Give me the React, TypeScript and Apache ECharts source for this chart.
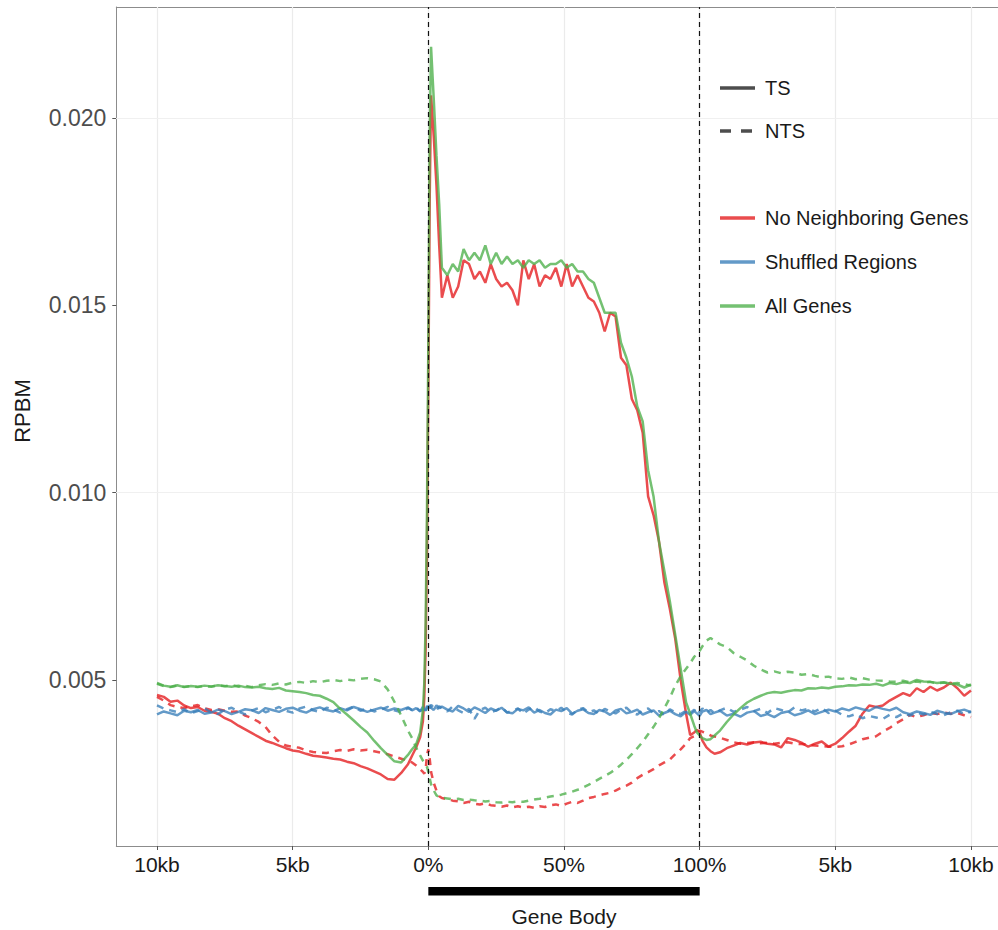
import React, { useEffect, useRef } from "react";
import * as echarts from "echarts";

// Bin positions: 0..200 = upstream 10kb..0%, 200..400 = gene body 0%..100%, 400..600 = downstream 0..10kb
const positions = [
  0, 5, 10, 15, 20, 25, 30, 35, 40, 45, 50, 55, 60, 65, 70, 75, 80, 85, 90, 95,
  100, 105, 110, 115, 120, 125, 130, 135, 140, 145, 150, 155, 160, 165, 170, 175, 180, 185,
  188, 191, 194, 196, 197, 198, 199, 200, 201, 202, 204, 206, 208,
  210, 214, 218, 222, 226, 230, 234, 238, 242, 246, 250, 254, 258, 262, 266, 270, 274, 278, 282, 286,
  290, 294, 298, 302, 306, 310, 314, 318, 322, 326, 330, 334, 338, 342, 346, 350, 354, 358, 362, 366,
  370, 374, 378, 382, 386, 390,
  393, 396, 398, 400, 402, 405, 408, 411,
  415, 420, 425, 430, 435, 440, 445, 450, 455, 460, 465, 470, 475, 480, 485, 490, 495, 500, 505, 510,
  515, 520, 525, 530, 535, 540, 545, 550, 555, 560, 565, 570, 575, 580, 585, 590, 595, 600,
];

const xTickValues = [0, 100, 200, 300, 400, 500, 600];
const xTickLabels = ["10kb", "5kb", "0%", "50%", "100%", "5kb", "10kb"];
const yTickValues = [0.005, 0.01, 0.015, 0.02];
const yMinorGrid = [0.0025, 0.0075, 0.0125, 0.0175, 0.0225];
const geneBoundaries = [200, 400];
const geneBodySpan = [200, 400];

const noNeighborTS = [
  0.0046, 0.00455, 0.00442, 0.00445, 0.00432, 0.00425, 0.00428, 0.00418, 0.00415, 0.0041,
  0.00398, 0.0039, 0.00378, 0.00368, 0.00358, 0.00348, 0.00338, 0.00332, 0.00325, 0.00318,
  0.00312, 0.00309, 0.00303, 0.00298, 0.00296, 0.00293, 0.0029, 0.00288, 0.00282, 0.00278,
  0.0027, 0.00264, 0.00256, 0.00248, 0.00236, 0.00234, 0.00252, 0.00275,
  0.00298, 0.0032, 0.00348, 0.0039, 0.0045, 0.0058, 0.0085, 0.0128, 0.0178, 0.0206, 0.0195, 0.0182, 0.0166,
  0.0152, 0.0158, 0.0152, 0.0155, 0.0162, 0.0161, 0.0157, 0.0159, 0.0156, 0.0161,
  0.0157, 0.0155, 0.0156, 0.0154, 0.015, 0.0162, 0.0157, 0.0161, 0.0155, 0.0158,
  0.0157, 0.016, 0.0155, 0.0161, 0.0155, 0.0158, 0.0155, 0.0152, 0.0151, 0.0148,
  0.0143, 0.0148, 0.0147, 0.0136, 0.0134, 0.0125, 0.0122, 0.0116, 0.0099, 0.0094,
  0.0087, 0.0076, 0.0069, 0.0061, 0.005, 0.0041,
  0.00353, 0.0036, 0.00367, 0.0036, 0.00338, 0.0032, 0.0031, 0.00303,
  0.00307, 0.00318, 0.00325, 0.00332, 0.00328, 0.00333, 0.00335, 0.0033, 0.00328, 0.0032,
  0.00345, 0.0034, 0.00333, 0.00322, 0.0033, 0.00336, 0.00322, 0.0033, 0.00345, 0.00362,
  0.00378, 0.0041, 0.00432, 0.00428, 0.00432, 0.00445, 0.00455, 0.00465, 0.00458, 0.00478,
  0.00468, 0.00482, 0.00472, 0.0048, 0.00493, 0.00478, 0.00458, 0.00472,
];

const noNeighborNTS = [
  0.00455, 0.00445, 0.00433, 0.00428, 0.00425, 0.0043, 0.00433, 0.00425, 0.0042, 0.00422,
  0.00418, 0.00415, 0.00416, 0.00405, 0.00398, 0.00388, 0.00375, 0.00352, 0.00335, 0.00325,
  0.00322, 0.00319, 0.00312, 0.00308, 0.00306, 0.00305, 0.0031, 0.00313, 0.00311, 0.00315,
  0.00312, 0.00314, 0.0031, 0.00306, 0.00302, 0.00296, 0.0029, 0.00284,
  0.0028, 0.00272, 0.00262, 0.00255, 0.0025, 0.0026, 0.003, 0.00315, 0.0029, 0.00255, 0.00225, 0.00205, 0.0019,
  0.00185, 0.00182, 0.00178, 0.00176, 0.00172, 0.00175, 0.0017, 0.00168, 0.00171, 0.00166,
  0.00164, 0.00162, 0.00165, 0.0016, 0.00163, 0.0016, 0.00162, 0.00159, 0.00163, 0.00161,
  0.00166, 0.00168, 0.00164, 0.0017, 0.00175, 0.00172, 0.00178, 0.00185, 0.00188, 0.00192,
  0.00196, 0.00199, 0.00205, 0.00212, 0.00218, 0.00226, 0.00238, 0.00247, 0.00254, 0.00262,
  0.00272, 0.0028, 0.00288, 0.00302, 0.00315, 0.0033,
  0.00345, 0.0035, 0.00358, 0.00365, 0.00362, 0.00358, 0.00352, 0.00349,
  0.00346, 0.0034, 0.00334, 0.0033, 0.00332, 0.00334, 0.00331, 0.00333, 0.0033, 0.00332,
  0.00334, 0.0033, 0.00329, 0.00327, 0.00325, 0.00324, 0.00322, 0.00321, 0.00323, 0.00328,
  0.00335, 0.00342, 0.00346, 0.0035, 0.00362, 0.00372, 0.00385, 0.00395, 0.00407, 0.00401,
  0.00406, 0.00412, 0.00409, 0.00413, 0.0041, 0.00412, 0.00406, 0.00401,
];

const shuffledTS = [
  0.00408, 0.00416, 0.00411, 0.00406, 0.00418, 0.00414, 0.0042, 0.0041, 0.00413, 0.00421,
  0.00417, 0.00409, 0.00415, 0.00422, 0.00419, 0.00412, 0.00425, 0.0042, 0.00415, 0.00423,
  0.00426, 0.00418, 0.00413, 0.00422, 0.00427, 0.0042, 0.00416, 0.00425, 0.00419, 0.00428,
  0.00422, 0.00415, 0.00421, 0.00426, 0.00418, 0.00424, 0.0042, 0.00427,
  0.00419, 0.00425, 0.00416, 0.00428, 0.00421, 0.00419, 0.00431, 0.00424, 0.00433, 0.00426, 0.0042, 0.00432, 0.00425,
  0.00429, 0.00421, 0.00416, 0.00431, 0.00424, 0.00415, 0.00427, 0.0042, 0.00412, 0.00424,
  0.00418, 0.00426, 0.00414, 0.00411, 0.00423, 0.00419, 0.00427, 0.00413, 0.0042, 0.00412,
  0.00408, 0.00421, 0.00417, 0.00425, 0.0041, 0.00418, 0.00422, 0.00412, 0.00409, 0.0042,
  0.00416, 0.00407, 0.00419, 0.00423, 0.00411, 0.00415, 0.00421, 0.00408, 0.00414, 0.00419,
  0.00405, 0.00412, 0.00418, 0.00409, 0.00403, 0.00415,
  0.00407, 0.00417, 0.00411, 0.00404, 0.00416, 0.0042, 0.00409, 0.00413,
  0.00418, 0.00405, 0.0041, 0.00402, 0.00413, 0.00417, 0.00404, 0.00409, 0.00401, 0.00412,
  0.00416, 0.00406, 0.00411, 0.00419, 0.00409, 0.00415, 0.00421, 0.00416, 0.00424, 0.00419,
  0.00427, 0.00422, 0.00418, 0.00428, 0.00423, 0.00419, 0.00426, 0.00414, 0.00409, 0.00416,
  0.00412, 0.00407, 0.00418, 0.00413, 0.00409, 0.00417, 0.00421, 0.00414,
];

const shuffledNTS = [
  0.00432, 0.00424, 0.00419, 0.00414, 0.00422, 0.00411, 0.00417, 0.00425, 0.00413, 0.00409,
  0.00421, 0.00426, 0.00416, 0.00408, 0.00419, 0.00425, 0.00414, 0.0042, 0.00428, 0.00418,
  0.00413, 0.00424, 0.00429, 0.00419, 0.00415, 0.00426, 0.00421, 0.00413, 0.00422, 0.00429,
  0.00418, 0.00424, 0.00416, 0.00421, 0.00428, 0.00419, 0.00414, 0.00425,
  0.0042, 0.00427, 0.00417, 0.00423, 0.00429, 0.00418, 0.00425, 0.00432, 0.00421, 0.00434, 0.00426, 0.00419, 0.0043,
  0.00424, 0.00416, 0.0043, 0.00419, 0.00412, 0.00423, 0.00396, 0.0042, 0.00426, 0.00414,
  0.00419, 0.00427, 0.00413, 0.00418, 0.00424, 0.0041, 0.00421, 0.00428, 0.00416, 0.00411,
  0.00422, 0.00417, 0.00426, 0.00413, 0.00408, 0.0042, 0.00425, 0.00414, 0.00419, 0.00409,
  0.00423, 0.00416, 0.00411, 0.00421, 0.00426, 0.00413, 0.00408, 0.00419, 0.00424, 0.00412,
  0.00417, 0.00406, 0.00422, 0.00414, 0.00409, 0.00418,
  0.00412, 0.00421, 0.00408, 0.00416, 0.00424, 0.00413, 0.0042, 0.00411,
  0.00419, 0.00426, 0.00415, 0.00421, 0.00428, 0.00417, 0.00423, 0.00412, 0.00425, 0.0042,
  0.00414, 0.00427, 0.00419, 0.00423, 0.00416, 0.00425, 0.00412, 0.00418, 0.00407, 0.00403,
  0.00409, 0.00398, 0.00404, 0.004, 0.00396, 0.00407, 0.00401, 0.00411, 0.00405, 0.00413,
  0.00408, 0.00415, 0.0041, 0.00406, 0.00414, 0.00418, 0.00409, 0.00416,
];

const allGenesTS = [
  0.00492, 0.00485, 0.00482, 0.00486, 0.00481, 0.00484, 0.00482, 0.00485, 0.00483, 0.00486,
  0.00484, 0.00482, 0.00485, 0.00481, 0.0048, 0.00482, 0.00478, 0.00476, 0.00479, 0.00472,
  0.0047, 0.00468, 0.00465, 0.0046, 0.00458, 0.0045, 0.00441, 0.00423, 0.00408, 0.00392,
  0.00375, 0.0036, 0.00338, 0.00318, 0.003, 0.00283, 0.0028, 0.003,
  0.00315, 0.00328, 0.0036, 0.0042, 0.0049, 0.0065, 0.0095, 0.014, 0.0195, 0.0219, 0.0205, 0.019, 0.0177,
  0.016, 0.0158, 0.0161, 0.0159, 0.0165, 0.0162, 0.0164, 0.0162, 0.0166, 0.0161,
  0.0164, 0.0161, 0.0163, 0.0161, 0.0162, 0.016, 0.0162, 0.0161, 0.0162, 0.016,
  0.0161, 0.0161, 0.0162, 0.016, 0.0161, 0.0159, 0.0159, 0.0157, 0.0156, 0.0152,
  0.0148, 0.0148, 0.0148, 0.014, 0.0136, 0.0131, 0.0123, 0.0119, 0.0106, 0.0099,
  0.0087, 0.0079, 0.0071, 0.0062, 0.0053, 0.0044,
  0.0041, 0.00378, 0.0036, 0.00352, 0.00345, 0.0034, 0.00342, 0.00352,
  0.00365, 0.00388, 0.00408, 0.00425, 0.0044, 0.0045, 0.00458, 0.00465, 0.00468, 0.00466,
  0.0047, 0.00473, 0.00472, 0.00478, 0.00477, 0.0048, 0.00478, 0.00482, 0.00483, 0.00486,
  0.00485, 0.00488, 0.00487, 0.0049, 0.00485, 0.00492, 0.00489, 0.00494, 0.00492, 0.005,
  0.00496, 0.00495, 0.00492, 0.00494, 0.0049, 0.00488, 0.0048, 0.00488,
];

const allGenesNTS = [
  0.0049, 0.00484, 0.00481, 0.00485, 0.00482, 0.00484, 0.00481, 0.00484, 0.00482, 0.00486,
  0.00483, 0.00487, 0.00482, 0.00485, 0.00481, 0.00486, 0.00489, 0.00487, 0.00491, 0.00488,
  0.00493, 0.00495, 0.00492, 0.00497, 0.00494, 0.00498, 0.005, 0.00497, 0.00501, 0.00499,
  0.00503, 0.00505, 0.00502, 0.00496, 0.00475, 0.00442, 0.00405, 0.00365,
  0.00345, 0.0032, 0.00298, 0.00285, 0.0028, 0.00272, 0.00268, 0.00255, 0.00238, 0.00222, 0.00205, 0.00192, 0.00188,
  0.00186, 0.00184, 0.00182, 0.00183, 0.0018, 0.00181, 0.00179, 0.00178, 0.00176, 0.00177,
  0.00174, 0.00173, 0.00175, 0.00174, 0.00176, 0.00175, 0.00178, 0.00181, 0.00183, 0.00186,
  0.00189, 0.00191, 0.00194, 0.00198, 0.00202, 0.00207, 0.00213, 0.0022, 0.00228, 0.00236,
  0.00244, 0.00252, 0.00262, 0.00274, 0.00287, 0.00302, 0.00318, 0.00335, 0.00355, 0.00375,
  0.00398, 0.00425, 0.00452, 0.00485, 0.0051, 0.0053,
  0.00545, 0.00562, 0.0057, 0.00578, 0.0059, 0.00605, 0.00612, 0.00605,
  0.00595, 0.00588, 0.00572, 0.00562, 0.00552, 0.00538, 0.00528, 0.0052, 0.00523, 0.00518,
  0.00522, 0.0052, 0.00514, 0.00516, 0.00511, 0.00507, 0.00509, 0.00504, 0.00503, 0.00507,
  0.00502, 0.00505, 0.00501, 0.00499, 0.00498, 0.00496, 0.00495, 0.00498, 0.00494, 0.00496,
  0.00493, 0.00495, 0.00491, 0.00493, 0.0049, 0.00492, 0.00489, 0.00485,
];

const groupNames = ["No Neighboring Genes", "Shuffled Regions", "All Genes"];
const strandNames = ["TS", "NTS"];

const FONT = '"Liberation Sans", Arial, Helvetica, sans-serif';
const RED = "rgba(228,26,28,0.78)";
const BLUE = "rgba(55,126,184,0.78)";
const GREEN = "rgba(77,175,74,0.78)";
const DASH = [7, 6];
const BORDER = "#8c8c8c";

const X_MIN = -30;
const X_MAX = 619.9;
const Y_MIN = 0.00057;
const Y_MAX = 0.02296;

function pair(values: number[]) {
  return positions.map((x, i) => [x, values[i]]);
}

export default function App() {
  const ref = useRef<HTMLDivElement>(null);

  useEffect(() => {
    document.body.style.margin = "0";
    if (!ref.current) return;
    const chart = echarts.init(ref.current, undefined, { renderer: "svg" });

    const gridMarks = [
      ...xTickValues.map((v) => ({ xAxis: v, lineStyle: { color: "#ebebeb", width: 1.2, type: "solid" } })),
      ...yTickValues.map((v) => ({ yAxis: v, lineStyle: { color: "#ebebeb", width: 1.2, type: "solid" } })),
      ...yMinorGrid.map((v) => ({ yAxis: v, lineStyle: { color: "#f0f0f0", width: 0.8, type: "solid" } })),
    ];

    const lineSeries = (name: string, values: number[], color: string, dashed: boolean, extra: any = {}) => ({
      name,
      type: "line",
      xAxisIndex: 0,
      yAxisIndex: 0,
      data: pair(values),
      showSymbol: false,
      symbol: "none",
      smooth: false,
      lineStyle: { color, width: 2.5, type: dashed ? DASH : "solid" },
      itemStyle: { color },
      z: 2,
      ...extra,
    });

    const textStyle = (text: string, size: number, align: string) => ({
      text,
      fill: "#1a1a1a",
      font: `${size}px ${FONT}`,
      align,
      verticalAlign: "middle",
      textAlign: align,
      textVerticalAlign: "middle",
    });

    const baseGraphic: any[] = [
      { type: "text", z: 100, x: 564, y: 916, style: textStyle("Gene Body", 21, "center") },
      { type: "text", z: 100, x: 22, y: 411, rotation: Math.PI / 2, style: textStyle("RPBM", 22, "center") },
      // Legend: linetype
      { type: "line", z: 100, shape: { x1: 720, y1: 88, x2: 755, y2: 88 }, style: { stroke: "#4d4d4d", lineWidth: 3.5 } },
      { type: "text", z: 100, x: 765, y: 88, style: textStyle(strandNames[0], 20, "left") },
      { type: "line", z: 100, shape: { x1: 720, y1: 131, x2: 755, y2: 131 }, style: { stroke: "#4d4d4d", lineWidth: 3.5, lineDash: [11, 10] } },
      { type: "text", z: 100, x: 765, y: 131, style: textStyle(strandNames[1], 20, "left") },
      // Legend: colour
      { type: "line", z: 100, shape: { x1: 720, y1: 218, x2: 755, y2: 218 }, style: { stroke: RED, lineWidth: 3.5 } },
      { type: "text", z: 100, x: 765, y: 218, style: textStyle(groupNames[0], 20, "left") },
      { type: "line", z: 100, shape: { x1: 720, y1: 262, x2: 755, y2: 262 }, style: { stroke: BLUE, lineWidth: 3.5 } },
      { type: "text", z: 100, x: 765, y: 262, style: textStyle(groupNames[1], 20, "left") },
      { type: "line", z: 100, shape: { x1: 720, y1: 306, x2: 755, y2: 306 }, style: { stroke: GREEN, lineWidth: 3.5 } },
      { type: "text", z: 100, x: 765, y: 306, style: textStyle(groupNames[2], 20, "left") },
    ];

    const option: any = {
      animation: false,
      backgroundColor: "#ffffff",
      grid: {
        left: 116.3,
        top: 7,
        width: 881.7,
        height: 839,
        show: false,
        containLabel: false,
        outerBoundsMode: "none",
      },
      xAxis: [
        {
          type: "value",
          min: X_MIN,
          max: X_MAX,
          position: "bottom",
          axisLine: { show: true, onZero: false, lineStyle: { color: BORDER, width: 1 } },
          splitLine: { show: false },
          axisTick: {
            show: true,
            customValues: xTickValues,
            length: 4,
            lineStyle: { color: "#555", width: 1 },
          },
          axisLabel: {
            customValues: xTickValues,
            formatter: (v: number) => xTickLabels[xTickValues.indexOf(v)] ?? "",
            color: "#1a1a1a",
            fontSize: 21,
            fontFamily: FONT,
            margin: 8,
          },
        },
        {
          type: "value",
          min: X_MIN,
          max: X_MAX,
          position: "top",
          axisLine: { show: true, onZero: false, lineStyle: { color: BORDER, width: 1 } },
          splitLine: { show: false },
          axisTick: { show: false },
          axisLabel: { show: false },
        },
      ],
      yAxis: {
        type: "value",
        min: Y_MIN,
        max: Y_MAX,
        position: "left",
        axisLine: { show: true, onZero: false, lineStyle: { color: BORDER, width: 1 } },
        splitLine: { show: false },
        axisTick: {
          show: true,
          customValues: yTickValues,
          length: 4,
          lineStyle: { color: "#555", width: 1 },
        },
        axisLabel: {
          customValues: yTickValues,
          formatter: (v: number) => v.toFixed(3),
          color: "#4d4d4d",
          fontSize: 23,
          fontFamily: FONT,
          margin: 10,
        },
      },
      series: [
        lineSeries(`${groupNames[0]} ${strandNames[0]}`, noNeighborTS, RED, false, {
          markLine: {
            silent: true,
            z: 1,
            symbol: ["none", "none"],
            label: { show: false },
            emphasis: { disabled: true },
            data: gridMarks,
          },
        }),
        lineSeries(`${groupNames[0]} ${strandNames[1]}`, noNeighborNTS, RED, true),
        lineSeries(`${groupNames[1]} ${strandNames[0]}`, shuffledTS, BLUE, false),
        lineSeries(`${groupNames[1]} ${strandNames[1]}`, shuffledNTS, BLUE, true),
        lineSeries(`${groupNames[2]} ${strandNames[0]}`, allGenesTS, GREEN, false),
        lineSeries(`${groupNames[2]} ${strandNames[1]}`, allGenesNTS, GREEN, true, {
          markLine: {
            silent: true,
            z: 3,
            symbol: ["none", "none"],
            label: { show: false },
            emphasis: { disabled: true },
            lineStyle: { color: "#111", width: 1.2, type: [5, 4] },
            data: geneBoundaries.map((v) => ({ xAxis: v })),
          },
        }),
      ],
      graphic: baseGraphic,
    };

    chart.setOption(option);

    // Gene-body bar below the axis, placed through the x scale
    const x0 = chart.convertToPixel({ xAxisIndex: 0 }, geneBodySpan[0]) as number;
    const x1 = chart.convertToPixel({ xAxisIndex: 0 }, geneBodySpan[1]) as number;
    chart.setOption({
      graphic: [
        ...baseGraphic,
        { type: "rect", z: 100, shape: { x: x0, y: 887, width: x1 - x0, height: 8.5 }, style: { fill: "#000" } },
      ],
    });

    return () => {
      chart.dispose();
    };
  }, []);

  return <div ref={ref} style={{ width: 998, height: 930 }} />;
}
